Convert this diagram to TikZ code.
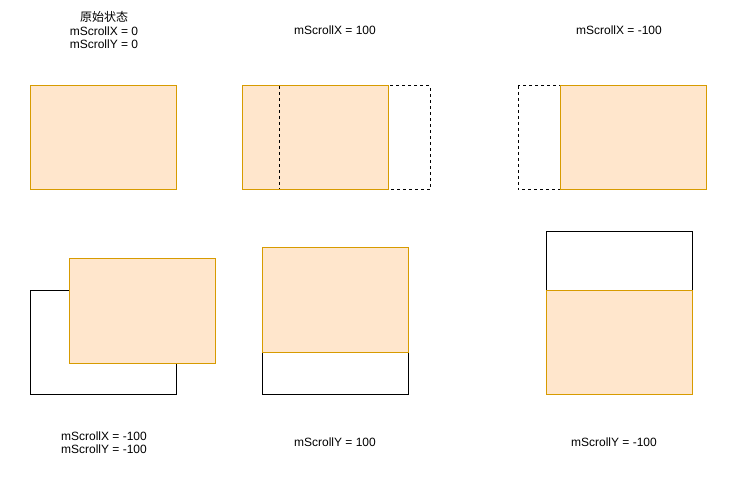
\documentclass[tikz,border=0pt]{standalone}
\usepackage{fontspec}
\setmainfont{Liberation Sans}
\newfontfamily\cjk{Noto Sans CJK SC}
\definecolor{ofill}{HTML}{FFE6CC}
\definecolor{oline}{HTML}{D79B00}
\begin{document}
\begin{tikzpicture}[x=1pt,y=-1pt,
  lbl/.style={font=\fontsize{12}{13.5}\selectfont, inner sep=0pt, align=center},
  obox/.style={fill=ofill, draw=oline, line width=1pt},
  ofillonly/.style={fill=ofill},
  olineonly/.style={draw=oline, line width=1pt},
  bbox/.style={draw=black, line width=1pt},
  dbox/.style={draw=black, line width=1pt, dashed, dash pattern=on 3pt off 3pt}]
\useasboundingbox (0,0) rectangle (731,481);
% labels
\node[lbl] (t0) at (104,17) {\cjk 原始状态};
\node[lbl] (t1) at (104,31) {mScrollX = 0};
\node[lbl] (t2) at (104,44) {mScrollY = 0};
\node[lbl] (t3) at (335,30) {mScrollX = 100};
\node[lbl] (t4) at (619,30) {mScrollX = -100};
\node[lbl] (t5) at (104,436) {mScrollX = -100};
\node[lbl] (t6) at (104,449) {mScrollY = -100};
\node[lbl] (t7) at (335,442) {mScrollY = 100};
\node[lbl] (t8) at (614,442) {mScrollY = -100};
% panel 1
\draw[obox] (30,86) rectangle (176,190);
% panel 2
\fill[ofillonly] (242,86) rectangle (388,190);
\draw[dbox] (279,86) rectangle (430,190);
\draw[olineonly] (242,86) rectangle (388,190);
% panel 3
\draw[dbox] (518,86) rectangle (664,190);
\draw[obox] (560,86) rectangle (706,190);
% panel 4
\draw[bbox] (30,290) rectangle (176,394);
\draw[obox] (69,259) rectangle (215,363);
% panel 5
\draw[bbox] (262,290) rectangle (408,394);
\draw[obox] (262,248) rectangle (408,352);
% panel 6
\draw[bbox] (546,232) rectangle (692,336);
\draw[obox] (546,290) rectangle (692,394);
\end{tikzpicture}
\end{document}
